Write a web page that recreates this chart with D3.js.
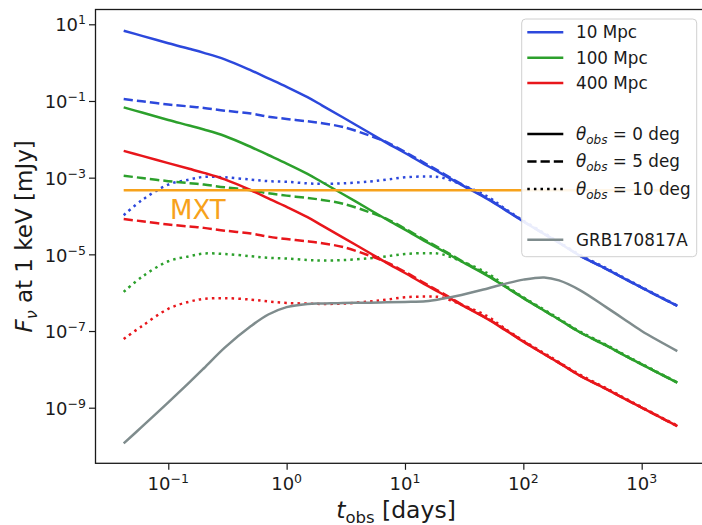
<!DOCTYPE html>
<html>
<head>
<meta charset="utf-8">
<script src="https://cdn.jsdelivr.net/npm/d3@7"></script>
<style>
  html, body { margin: 0; padding: 0; background: #fff; }
  svg { display: block; font-family: "DejaVu Sans", sans-serif; }
</style>
</head>
<body>
<svg id="chart" width="702" height="525"></svg>
<script>
// Observer time grid (days)
const tDays = [0.042, 0.06, 0.1, 0.15, 0.2, 0.3, 0.5, 0.7, 1, 1.5, 2, 3, 5, 7, 10,
               15, 20, 30, 50, 70, 100, 150, 200, 300, 500, 700, 1000, 2000];

// X-ray flux density at 1 keV (mJy), 10 Mpc
const flux10Mpc_0deg  = [6.8, 5.0, 3.2, 2.3, 1.8, 1.22, 0.63, 0.39, 0.234, 0.126, 0.076, 0.037, 0.0148, 8.1e-3,
                         4.4e-3, 2.14e-3, 1.32e-3, 6.5e-4, 2.75e-4, 1.45e-4, 7.2e-5, 3.4e-5, 2.0e-5, 9.3e-6,
                         4.2e-6, 2.4e-6, 1.35e-6, 4.5e-7];
const flux10Mpc_5deg  = [0.112, 0.098, 0.081, 0.072, 0.066, 0.056, 0.047, 0.039, 0.034, 0.0295, 0.0263, 0.0209,
                         0.0126, 8.4e-3, 4.7e-3, 2.3e-3, 1.4e-3, 6.8e-4, 2.85e-4, 1.48e-4, 7.3e-5, 3.4e-5,
                         2.0e-5, 9.3e-6, 4.2e-6, 2.4e-6, 1.35e-6, 4.5e-7];
const flux10Mpc_10deg = [1.05e-4, 2.6e-4, 6.6e-4, 8.9e-4, 1.05e-3, 1.02e-3, 8.9e-4, 8.1e-4, 7.8e-4, 7.1e-4,
                         6.9e-4, 7.1e-4, 7.9e-4, 8.9e-4, 1.02e-3, 1.07e-3, 1.02e-3, 6.6e-4, 3.2e-4, 1.55e-4,
                         7.6e-5, 3.6e-5, 2.1e-5, 9.8e-6, 4.4e-6, 2.5e-6, 1.4e-6, 4.6e-7];

// 100 Mpc
const flux100Mpc_0deg  = [6.8e-2, 5.0e-2, 3.2e-2, 2.3e-2, 1.8e-2, 1.22e-2, 6.3e-3, 3.9e-3, 2.34e-3, 1.26e-3,
                          7.6e-4, 3.7e-4, 1.48e-4, 8.1e-5, 4.4e-5, 2.14e-5, 1.32e-5, 6.5e-6, 2.75e-6, 1.45e-6,
                          7.2e-7, 3.4e-7, 2.0e-7, 9.3e-8, 4.2e-8, 2.4e-8, 1.35e-8, 4.5e-9];
const flux100Mpc_5deg  = [1.12e-3, 9.8e-4, 8.1e-4, 7.2e-4, 6.6e-4, 5.6e-4, 4.7e-4, 3.9e-4, 3.4e-4, 2.95e-4,
                          2.63e-4, 2.09e-4, 1.26e-4, 8.4e-5, 4.7e-5, 2.3e-5, 1.4e-5, 6.8e-6, 2.85e-6, 1.48e-6,
                          7.3e-7, 3.4e-7, 2.0e-7, 9.3e-8, 4.2e-8, 2.4e-8, 1.35e-8, 4.5e-9];
const flux100Mpc_10deg = [1.05e-6, 2.6e-6, 6.6e-6, 8.9e-6, 1.05e-5, 1.02e-5, 8.9e-6, 8.1e-6, 7.8e-6, 7.1e-6,
                          6.9e-6, 7.1e-6, 7.9e-6, 8.9e-6, 1.02e-5, 1.07e-5, 1.02e-5, 6.6e-6, 3.2e-6, 1.55e-6,
                          7.6e-7, 3.6e-7, 2.1e-7, 9.8e-8, 4.4e-8, 2.5e-8, 1.4e-8, 4.6e-9];

// 400 Mpc
const flux400Mpc_0deg  = [5.0e-3, 3.7e-3, 2.4e-3, 1.7e-3, 1.33e-3, 9.0e-4, 4.7e-4, 2.9e-4, 1.73e-4, 9.3e-5,
                          5.6e-5, 2.74e-5, 1.1e-5, 6.0e-6, 3.26e-6, 1.59e-6, 9.8e-7, 4.8e-7, 2.04e-7, 1.07e-7,
                          5.3e-8, 2.5e-8, 1.48e-8, 6.9e-9, 3.1e-9, 1.78e-9, 1.0e-9, 3.3e-10];
const flux400Mpc_5deg  = [8.3e-5, 7.3e-5, 6.0e-5, 5.3e-5, 4.9e-5, 4.15e-5, 3.5e-5, 2.9e-5, 2.5e-5, 2.19e-5,
                          1.95e-5, 1.55e-5, 9.3e-6, 6.2e-6, 3.5e-6, 1.7e-6, 1.04e-6, 5.0e-7, 2.1e-7, 1.1e-7,
                          5.4e-8, 2.5e-8, 1.48e-8, 6.9e-9, 3.1e-9, 1.78e-9, 1.0e-9, 3.3e-10];
const flux400Mpc_10deg = [6.2e-8, 1.35e-7, 3.8e-7, 5.8e-7, 6.9e-7, 7.2e-7, 6.6e-7, 5.9e-7, 5.4e-7, 5.2e-7,
                          5.1e-7, 5.2e-7, 5.9e-7, 6.6e-7, 7.6e-7, 7.9e-7, 7.6e-7, 4.9e-7, 2.4e-7, 1.15e-7,
                          5.6e-8, 2.65e-8, 1.55e-8, 7.3e-9, 3.25e-9, 1.86e-9, 1.04e-9, 3.4e-10];

// GRB170817A afterglow model
const fluxGRB170817A = [1.17e-10, 3.2e-10, 1.38e-9, 4.5e-9, 1.07e-8, 3.7e-8, 1.35e-7, 2.7e-7, 4.2e-7, 5.1e-7,
                        5.2e-7, 5.4e-7, 5.5e-7, 5.6e-7, 5.75e-7, 6.0e-7, 6.8e-7, 8.7e-7, 1.29e-6, 1.7e-6,
                        2.19e-6, 2.5e-6, 2.09e-6, 1.17e-6, 4.2e-7, 2.1e-7, 1.0e-7, 3.0e-8];

// MXT sensitivity level (mJy)
const mxtLimit = 4.7e-4;
const mxtSpan = [0.042, 2000];

// Axis ticks
const xMajorTicks = [0.1, 1, 10, 100, 1000];
const xTickExponents = ["\u22121", "0", "1", "2", "3"];
const yMajorTicks = [10, 1e-1, 1e-3, 1e-5, 1e-7, 1e-9];
const yTickExponents = ["1", "\u22121", "\u22123", "\u22125", "\u22127", "\u22129"];

const COLORS = { blue: "#2c48dc", green: "#2ca02c", red: "#e8161b", grey: "#7f8c8d", orange: "#f7a21b" };
const DASH = { solid: null, dashed: "9.25,4", dotted: "2.5,4.1" };

const series = [
  { values: flux10Mpc_0deg,   color: COLORS.blue,  dash: DASH.solid },
  { values: flux10Mpc_5deg,   color: COLORS.blue,  dash: DASH.dashed },
  { values: flux10Mpc_10deg,  color: COLORS.blue,  dash: DASH.dotted },
  { values: flux100Mpc_0deg,  color: COLORS.green, dash: DASH.solid },
  { values: flux100Mpc_5deg,  color: COLORS.green, dash: DASH.dashed },
  { values: flux100Mpc_10deg, color: COLORS.green, dash: DASH.dotted },
  { values: flux400Mpc_0deg,  color: COLORS.red,   dash: DASH.solid },
  { values: flux400Mpc_5deg,  color: COLORS.red,   dash: DASH.dashed },
  { values: flux400Mpc_10deg, color: COLORS.red,   dash: DASH.dotted },
  { values: fluxGRB170817A,   color: COLORS.grey,  dash: DASH.solid }
];

const svg = d3.select("#chart");
const plot = { left: 95.5, right: 705, top: 9.5, bottom: 463.3 };

const x = d3.scaleLog().domain([Math.pow(10, -1.615), Math.pow(10, 3.535)]).range([plot.left, plot.right]);
const y = d3.scaleLog().domain([Math.pow(10, -10.45), Math.pow(10, 1.386)]).range([plot.bottom, plot.top]);

svg.append("defs").append("clipPath").attr("id", "plotclip")
  .append("rect").attr("x", plot.left).attr("y", plot.top)
  .attr("width", plot.right - plot.left).attr("height", plot.bottom - plot.top);

const lineGen = d3.line()
  .x(d => x(d[0]))
  .y(d => y(d[1]))
  .curve(d3.curveCatmullRom.alpha(0.5));

const curves = svg.append("g").attr("clip-path", "url(#plotclip)");
series.forEach(s => {
  curves.append("path")
    .datum(tDays.map((t, i) => [t, s.values[i]]))
    .attr("d", lineGen)
    .attr("fill", "none")
    .attr("stroke", s.color)
    .attr("stroke-width", 2.5)
    .attr("stroke-dasharray", s.dash)
    .attr("stroke-linecap", "butt")
    .attr("stroke-linejoin", "round");
});

// MXT sensitivity line and label
curves.append("line")
  .attr("x1", x(mxtSpan[0])).attr("x2", x(mxtSpan[1]))
  .attr("y1", y(mxtLimit)).attr("y2", y(mxtLimit))
  .attr("stroke", COLORS.orange).attr("stroke-width", 2.5);
svg.append("text")
  .attr("x", 170).attr("y", 218.5)
  .attr("fill", COLORS.orange)
  .attr("font-size", 26)
  .text("MXT");

// Minor x ticks: 2..9 in every decade inside the domain
const xMinor = [];
for (let e = -2; e <= 3; e++) {
  for (let m = 2; m <= 9; m++) {
    const v = m * Math.pow(10, e);
    if (v > x.domain()[0] && v < x.domain()[1]) xMinor.push(v);
  }
}

const axisColor = "#1a1a1a";
const xAxisG = svg.append("g").attr("transform", `translate(0,${plot.bottom})`);
xAxisG.call(d3.axisBottom(x).tickValues(xMinor).tickSize(4).tickSizeOuter(0).tickFormat(""));
xAxisG.call(d3.axisBottom(x).tickValues(xMajorTicks).tickSize(6.5).tickSizeOuter(0).tickFormat(""));
xAxisG.selectAll(".domain").remove();

const yAxisG = svg.append("g").attr("transform", `translate(${plot.left},0)`);
yAxisG.call(d3.axisLeft(y).tickValues(yMajorTicks).tickSize(6.5).tickSizeOuter(0).tickFormat(""));
yAxisG.selectAll(".domain").remove();

svg.selectAll(".tick line").attr("stroke", axisColor).attr("stroke-width", 1.2);
svg.selectAll(".tick text").remove();

// Power-of-ten tick labels
const labelSize = 18, supSize = 12.5;
function powerLabel(sel, exp) {
  sel.append("tspan").text("10");
  sel.append("tspan").attr("font-size", supSize).attr("dy", -7).text(exp);
}
xMajorTicks.forEach((v, i) => {
  const t = svg.append("text")
    .attr("x", x(v)).attr("y", 490)
    .attr("text-anchor", "middle")
    .attr("font-size", labelSize).attr("fill", axisColor);
  powerLabel(t, xTickExponents[i]);
});
yMajorTicks.forEach((v, i) => {
  const t = svg.append("text")
    .attr("x", 86).attr("y", y(v) + 7.2)
    .attr("text-anchor", "end")
    .attr("font-size", labelSize).attr("fill", axisColor);
  powerLabel(t, yTickExponents[i]);
});

// Spines
svg.append("rect")
  .attr("x", plot.left).attr("y", plot.top)
  .attr("width", plot.right - plot.left).attr("height", plot.bottom - plot.top)
  .attr("fill", "none").attr("stroke", axisColor).attr("stroke-width", 1.3);

// Axis titles
const xTitle = svg.append("text")
  .attr("x", 396).attr("y", 517.5)
  .attr("text-anchor", "middle")
  .attr("font-size", 23.5).attr("fill", axisColor);
xTitle.append("tspan").attr("font-style", "italic").text("t");
xTitle.append("tspan").attr("font-size", 16.5).attr("dy", 5).text("obs");
xTitle.append("tspan").attr("dy", -5).text(" [days]");

const yTitle = svg.append("text")
  .attr("transform", `translate(31.5,${(plot.top + plot.bottom) / 2}) rotate(-90)`)
  .attr("text-anchor", "middle")
  .attr("font-size", 23).attr("fill", axisColor);
yTitle.append("tspan").attr("font-style", "italic").text("F");
yTitle.append("tspan").attr("font-style", "italic").attr("font-size", 16).attr("dy", 5).text("\u03bd");
yTitle.append("tspan").attr("dy", -5).text(" at 1 keV [mJy]");

// Legend
const legendItems = [
  { label: "10 Mpc", color: COLORS.blue, dash: DASH.solid },
  { label: "100 Mpc", color: COLORS.green, dash: DASH.solid },
  { label: "400 Mpc", color: COLORS.red, dash: DASH.solid },
  null,
  { math: "0", color: "#000", dash: DASH.solid },
  { math: "5", color: "#000", dash: DASH.dashed },
  { math: "10", color: "#000", dash: DASH.dotted },
  null,
  { label: "GRB170817A", color: COLORS.grey, dash: DASH.solid }
];
const legend = svg.append("g");
legend.append("rect")
  .attr("x", 521.7).attr("y", 19).attr("width", 175).attr("height", 237.7)
  .attr("rx", 4).attr("ry", 4)
  .attr("fill", "#fff").attr("fill-opacity", 0.9)
  .attr("stroke", "#d0d0d0").attr("stroke-width", 1);

let cy = 32.3;
let prev = null;
legendItems.forEach((item, i) => {
  if (i > 0) cy += (prev && prev.math && item && item.math) ? 27.5 : 25.4;
  prev = item;
  if (!item) return;
  legend.append("line")
    .attr("x1", 527.3).attr("x2", 563.3).attr("y1", cy).attr("y2", cy)
    .attr("stroke", item.color).attr("stroke-width", 2.5)
    .attr("stroke-dasharray", item.dash);
  const t = legend.append("text")
    .attr("x", 576).attr("y", cy + 6)
    .attr("font-size", 16.8).attr("fill", axisColor);
  if (item.math) {
    t.append("tspan").attr("font-style", "italic").text("\u03b8");
    t.append("tspan").attr("font-style", "italic").attr("font-size", 12).attr("dy", 4).text("obs");
    t.append("tspan").attr("dy", -4).text(" = " + item.math + " deg");
  } else {
    t.text(item.label);
  }
});
</script>
</body>
</html>
